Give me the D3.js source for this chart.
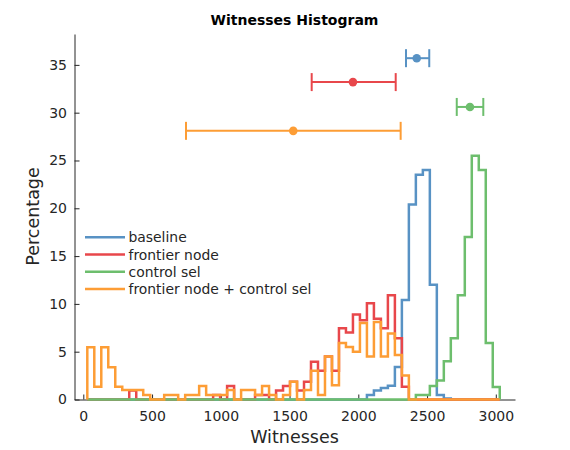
<!DOCTYPE html>
<html>
<head>
<meta charset="utf-8">
<script src="https://cdn.jsdelivr.net/npm/d3@7"></script>
<style>
  body { margin: 0; background: #fff; }
  svg { display: block; font-family: "DejaVu Sans", sans-serif; }
</style>
</head>
<body>
<script>
'use strict';

// shared histogram bins (Witnesses)
var binStart = 29.1,
  binWidth = 50.84,
  binCount = 59;

var seriesNames = ['baseline', 'frontier node', 'control sel', 'frontier node + control sel'];
var colors = ['#5892c4', '#e8474b', '#6dbe6d', '#fd9d35'];

// percentage per bin
var baseline = [
  0, 0, 0, 0, 0, 0, 0, 0, 0, 0,
  0, 0, 0, 0, 0, 0, 0, 0, 0, 0,
  0, 0, 0, 0, 0, 0, 0, 0, 0, 0,
  0, 0, 0, 0, 0, 0, 0, 0, 0, 0,
  0.47, 0.94, 1.2, 1.45, 3.4, 10.4, 20.4, 23.5, 24.0, 12.0,
  0.47, 0.1, 0, 0, 0, 0, 0, 0, 0
];
var frontierNode = [
  0, 0, 0, 0, 0, 0, 0.94, 0, 0, 0,
  0, 0, 0, 0, 0, 0, 0, 0, 0.47, 0,
  1.4, 0, 0, 0, 0.47, 0.47, 0, 0.94, 1.4, 1.86,
  0.94, 1.86, 3.95, 3.0, 4.5, 3.0, 7.45, 7.0, 8.9, 8.3,
  10.06, 8.45, 7.45, 10.9, 6.4, 1.34, 0, 0, 0, 0,
  0, 0, 0, 0, 0, 0, 0, 0, 0
];
var controlSel = [
  0, 0, 0, 0, 0, 0, 0, 0, 0, 0,
  0, 0, 0, 0, 0, 0, 0, 0, 0, 0,
  0, 0, 0, 0, 0, 0, 0, 0, 0, 0,
  0, 0, 0, 0, 0, 0, 0, 0, 0, 0,
  0, 0, 0, 0, 0, 0, 0, 0.47, 0.47, 1.4,
  2.0, 4.0, 6.4, 10.9, 17.0, 25.5, 24.0, 5.9, 1.3
];
var frontierControl = [
  5.46, 1.34, 5.46, 3.37, 1.34, 1.0, 1.0, 1.0, 0.47, 0,
  0, 0.47, 0.47, 0, 0.47, 0.47, 1.4, 0.47, 0.47, 0.47,
  1.0, 0, 1.0, 1.0, 0.47, 1.4, 0.47, 0, 0.47, 1.86,
  0, 1.0, 3.0, 0.47, 4.5, 1.5, 5.9, 5.5, 5.0, 8.0,
  4.5, 8.1, 4.5, 6.9, 4.65, 2.5, 0, 0, 0, 0,
  0, 0, 0, 0, 0, 0, 0, 0, 0
];

// mean and spread markers above the bars
var markerMean = [2425, 1961, 2812, 1527];
var markerLow = [2347, 1661, 2716, 747];
var markerHigh = [2516, 2272, 2909, 2308];
var markerLevel = [35.7, 33.2, 30.6, 28.1];

var xTicks = [0, 500, 1000, 1500, 2000, 2500, 3000];
var yTicks = [0, 5, 10, 15, 20, 25, 30, 35];

var width = 570, height = 450;
var plotLeft = 74.5, plotRight = 515, plotTop = 34, plotBottom = 399.5;
var ink = '#262626';

var svg = d3.select('body').append('svg')
  .attr('width', width)
  .attr('height', height);

var x = d3.scaleLinear().domain([-64, 3139.6]).range([plotLeft, plotRight]);
var y = d3.scaleLinear().domain([0, 38.23]).range([plotBottom, plotTop]);

var edges = d3.range(binCount + 1).map(function (i) { return binStart + i * binWidth; });

function stairs(values) {
  var pts = [[edges[0], 0]];
  values.forEach(function (v, i) {
    pts.push([edges[i], v], [edges[i + 1], v]);
  });
  pts.push([edges[binCount], 0]);
  return pts;
}

// axes first, histograms cover the baseline
var xAxis = d3.axisBottom(x).tickValues(xTicks).tickFormat(d3.format('d'))
  .tickSizeInner(-5).tickSizeOuter(0).tickPadding(12);
var yAxis = d3.axisLeft(y).tickValues(yTicks).tickFormat(d3.format('d'))
  .tickSizeInner(-5).tickSizeOuter(0).tickPadding(7.5);

var gx = svg.append('g').attr('transform', 'translate(0,' + plotBottom + ')').call(xAxis);
var gy = svg.append('g').attr('transform', 'translate(' + plotLeft + ',0)').call(yAxis);

[gx, gy].forEach(function (g) {
  g.select('.domain').attr('stroke', ink).attr('stroke-width', 1);
  g.selectAll('.tick line').attr('stroke', ink).attr('stroke-width', 1);
  g.selectAll('.tick text')
    .attr('fill', ink)
    .style('font-size', '14px')
    .style('font-family', '"DejaVu Sans", sans-serif');
});

var line = d3.line()
  .x(function (d) { return x(d[0]); })
  .y(function (d) { return y(d[1]); });

var histData = [baseline, frontierNode, controlSel, frontierControl];

svg.append('g').selectAll('path')
  .data(histData)
  .join('path')
  .attr('d', function (d) { return line(stairs(d)); })
  .attr('fill', 'none')
  .attr('stroke', function (d, i) { return colors[i]; })
  .attr('stroke-width', 2.5)
  .attr('stroke-linejoin', 'miter');

// error bars
var bars = svg.append('g').selectAll('g')
  .data(markerMean)
  .join('g')
  .attr('stroke', function (d, i) { return colors[i]; })
  .attr('fill', function (d, i) { return colors[i]; });

bars.append('line')
  .attr('x1', function (d, i) { return x(markerLow[i]); })
  .attr('x2', function (d, i) { return x(markerHigh[i]); })
  .attr('y1', function (d, i) { return y(markerLevel[i]); })
  .attr('y2', function (d, i) { return y(markerLevel[i]); })
  .attr('stroke-width', 2);

[markerLow, markerHigh].forEach(function (ends) {
  bars.append('line')
    .attr('x1', function (d, i) { return x(ends[i]); })
    .attr('x2', function (d, i) { return x(ends[i]); })
    .attr('y1', function (d, i) { return y(markerLevel[i]) - 9; })
    .attr('y2', function (d, i) { return y(markerLevel[i]) + 9; })
    .attr('stroke-width', 2);
});

bars.append('circle')
  .attr('cx', function (d) { return x(d); })
  .attr('cy', function (d, i) { return y(markerLevel[i]); })
  .attr('r', 4.3)
  .attr('stroke', 'none');

// legend
var legend = svg.append('g').selectAll('g')
  .data(seriesNames)
  .join('g')
  .attr('transform', function (d, i) { return 'translate(85,' + (237.3 + i * 17.2) + ')'; });

legend.append('line')
  .attr('x1', 0).attr('x2', 40)
  .attr('stroke', function (d, i) { return colors[i]; })
  .attr('stroke-width', 2.5);

legend.append('text')
  .attr('x', 43.5)
  .attr('dy', '0.36em')
  .attr('fill', ink)
  .style('font-size', '13.9px')
  .text(function (d) { return d; });

// labels
svg.append('text')
  .attr('x', 294.5).attr('y', 25)
  .attr('text-anchor', 'middle')
  .attr('fill', '#000')
  .style('font-size', '14px')
  .style('font-weight', 'bold')
  .text('Witnesses Histogram');

svg.append('text')
  .attr('x', 294.5).attr('y', 442.5)
  .attr('text-anchor', 'middle')
  .attr('fill', ink)
  .style('font-size', '17.5px')
  .text('Witnesses');

svg.append('text')
  .attr('transform', 'translate(39,216.5) rotate(-90)')
  .attr('text-anchor', 'middle')
  .attr('fill', ink)
  .style('font-size', '17.5px')
  .text('Percentage');
</script>
</body>
</html>
